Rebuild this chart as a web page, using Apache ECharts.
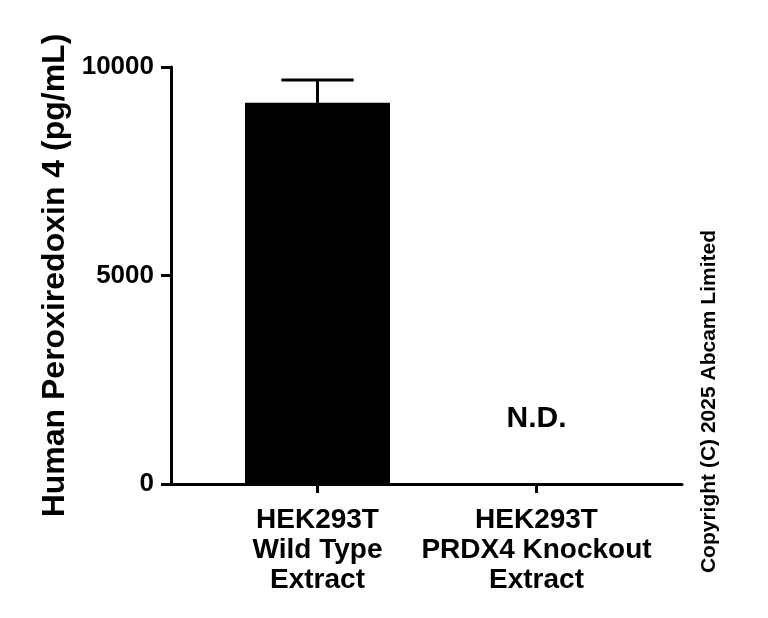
<!DOCTYPE html>
<html><head><meta charset="utf-8">
<script src="https://cdn.jsdelivr.net/npm/echarts@6/dist/echarts.min.js"></script>
<style>html,body{margin:0;padding:0;background:#fff}#c{width:768px;height:618px}</style>
</head><body><div id="c"></div>
<script>
var categories = ['HEK293T\nWild Type\nExtract', 'HEK293T\nPRDX4 Knockout\nExtract'];
var means = [9140, 0];
var errUpper = [9690, null];
var barLabels = ['', 'N.D.'];
var yTicks = [0, 5000, 10000];

var FONT = 'Liberation Sans';
var chart = echarts.init(document.getElementById('c'));
var axisStyle = {lineStyle: {color: '#000', width: 3}};
chart.setOption({
  animation: false,
  grid: [
    {left: 171, right: 86, top: 67, bottom: 134},
    {left: 208, right: 122, top: 67, bottom: 134}
  ],
  xAxis: [
    {gridIndex: 0, type: 'category', data: [''], axisLine: axisStyle, axisTick: {show: false}, axisLabel: {show: false}},
    {gridIndex: 1, type: 'category', data: categories, axisLine: {show: false},
     axisTick: {show: true, alignWithLabel: true, length: 9, lineStyle: {color: '#000', width: 3}},
     axisLabel: {color: '#000', fontFamily: FONT, fontWeight: 'bold', fontSize: 28, lineHeight: 30, margin: 21, interval: 0}}
  ],
  yAxis: [
    {gridIndex: 0, type: 'value', min: yTicks[0], max: yTicks[yTicks.length-1], interval: 5000,
     axisLine: {show: true, lineStyle: {color: '#000', width: 3}},
     axisTick: {show: true, length: 10, lineStyle: {color: '#000', width: 3}},
     splitLine: {show: false},
     axisLabel: {color: '#000', fontFamily: FONT, fontWeight: 'bold', fontSize: 26, margin: 17,
       formatter: function (v) { return String(v); }},
     name: 'Human Peroxiredoxin 4 (pg/mL)', nameLocation: 'middle', nameGap: 98,
     nameTextStyle: {color: '#000', fontFamily: FONT, fontWeight: 'bold', fontSize: 32}},
    {gridIndex: 1, type: 'value', min: yTicks[0], max: yTicks[yTicks.length-1], show: false}
  ],
  series: [
    {type: 'bar', xAxisIndex: 1, yAxisIndex: 1, barWidth: 145,
     itemStyle: {color: '#000'},
     data: means.map(function (v, i) {
       return {value: v, label: {show: !!barLabels[i], formatter: barLabels[i], position: 'top', distance: 50,
         color: '#000', fontFamily: FONT, fontWeight: 'bold', fontSize: 30}};
     })},
    {type: 'custom', xAxisIndex: 1, yAxisIndex: 1, z: 1,
     data: means.map(function (v, i) { return [i, v, errUpper[i]]; }).filter(function (d) { return d[2] != null; }),
     renderItem: function (params, api) {
       var base = api.coord([api.value(0), api.value(1)]);
       var top = api.coord([api.value(0), api.value(2)]);
       var half = api.size([1, 0])[0] * 0.165;
       var st = {stroke: '#000', lineWidth: 3};
       return {type: 'group', children: [
         {type: 'line', shape: {x1: base[0], y1: base[1], x2: top[0], y2: top[1]}, style: st},
         {type: 'line', shape: {x1: top[0] - half, y1: top[1], x2: top[0] + half, y2: top[1]}, style: st}
       ]};
     }}
  ],
  graphic: [
    {type: 'text', left: 699, top: 230, rotation: Math.PI / 2,
     style: {text: 'Copyright (C) 2025 Abcam Limited', fill: '#000', font: 'bold 21px "Liberation Sans"'}}
  ]
});
</script></body></html>
